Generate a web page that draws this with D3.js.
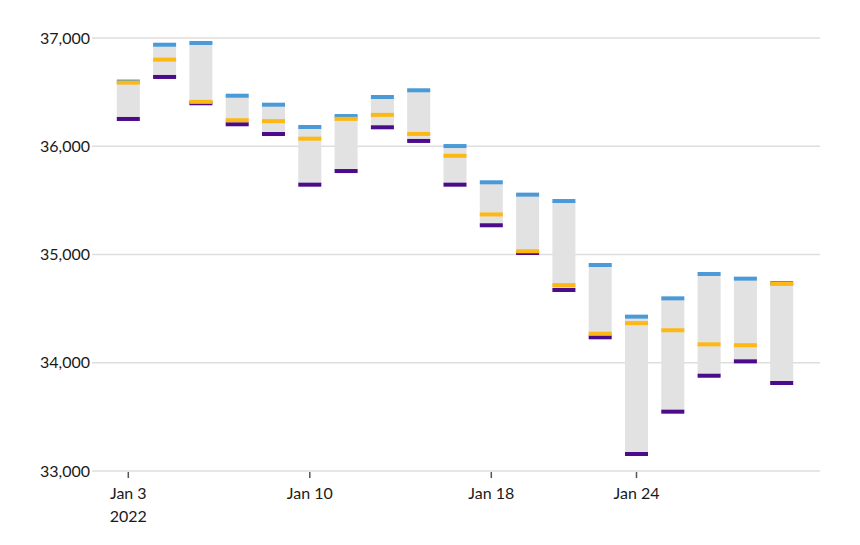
<!DOCTYPE html>
<html>
<head>
<meta charset="utf-8">
<script src="https://cdn.jsdelivr.net/npm/d3@7"></script>
<style>
  html, body { margin: 0; padding: 0; background: #fff; }
  svg { display: block; }
  text { font-family: Lato, "Open Sans", sans-serif; fill: #1a1a1a; }
</style>
</head>
<body>
<svg id="chart" width="860" height="545"></svg>
<script>
const dates = ["2022-01-03","2022-01-04","2022-01-05","2022-01-06","2022-01-07",
  "2022-01-10","2022-01-11","2022-01-12","2022-01-13","2022-01-14",
  "2022-01-18","2022-01-19","2022-01-20","2022-01-21",
  "2022-01-24","2022-01-25","2022-01-26","2022-01-27","2022-01-28"];
const highs  = [36598, 36938, 36954, 36467, 36384, 36178, 36279, 36455, 36517, 36002,
  35667, 35553, 35494, 34903, 34426, 34595, 34820, 34777, 34737];
const closes = [36588, 36800, 36410, 36240, 36232, 36070, 36253, 36290, 36114, 35912,
  35370, 35030, 34717, 34268, 34366, 34300, 34170, 34162, 34728];
const lows   = [36252, 36640, 36397, 36203, 36113, 35645, 35771, 36175, 36049, 35645,
  35270, 35014, 34672, 34235, 33157, 33548, 33880, 34013, 33813];
const yTicks = [33000, 34000, 35000, 36000, 37000];
const xTickDates = ["2022-01-03","2022-01-10","2022-01-18","2022-01-24"];
const xTickLabels = [["Jan 3","2022"],["Jan 10"],["Jan 18"],["Jan 24"]];

const svg = d3.select("#chart");
const mLeft = 92, mRight = 818, mTop = 38, mBottom = 471;

const x = d3.scalePoint().domain(dates).range([mLeft, mRight]).padding(1);
const y = d3.scaleLinear().domain([33000, 37000]).range([mBottom, mTop]);
const bw = 23, th = 4;

// gridlines
svg.append("g").selectAll("line").data(yTicks).join("line")
  .attr("x1", mLeft).attr("x2", 820)
  .attr("y1", d => y(d)).attr("y2", d => y(d))
  .attr("stroke", "#dedede").attr("stroke-width", 1.6);

// y labels
const fmt = d3.format(",");
svg.append("g").selectAll("text").data(yTicks).join("text")
  .attr("x", 90).attr("y", d => y(d)).attr("dy", "0.35em")
  .attr("text-anchor", "end").attr("font-size", 16)
  .text(d => fmt(d));

// x ticks
const xt = svg.append("g").selectAll("g").data(xTickDates).join("g")
  .attr("transform", d => `translate(${x(d)},0)`);
xt.append("line").attr("y1", mBottom + 1).attr("y2", mBottom + 7)
  .attr("stroke", "#555").attr("stroke-width", 1.5);
xt.each(function(d, i) {
  const g = d3.select(this);
  xTickLabels[i].forEach((t, j) => {
    g.append("text").attr("y", mBottom + 28 + j * 23)
      .attr("text-anchor", "middle").attr("font-size", 16).text(t);
  });
});

// bars
const data = dates.map((d, i) => ({d, h: highs[i], c: closes[i], l: lows[i]}));
const bars = svg.append("g").selectAll("g").data(data).join("g")
  .attr("transform", d => `translate(${x(d.d) - bw/2},0)`);
bars.append("rect")
  .attr("y", d => y(d.h)).attr("width", bw)
  .attr("height", d => y(d.l) - y(d.h))
  .attr("fill", "#e2e2e2");
bars.append("rect").attr("y", d => y(d.h) - th/2).attr("width", bw).attr("height", th)
  .attr("fill", "#4a9ad8");
bars.append("rect").attr("y", d => y(d.l) - th/2).attr("width", bw).attr("height", th)
  .attr("fill", "#4b0b8a");
bars.append("rect").attr("y", d => y(d.c) - th/2).attr("width", bw).attr("height", th)
  .attr("fill", "#fcb813");
</script>
</body>
</html>
